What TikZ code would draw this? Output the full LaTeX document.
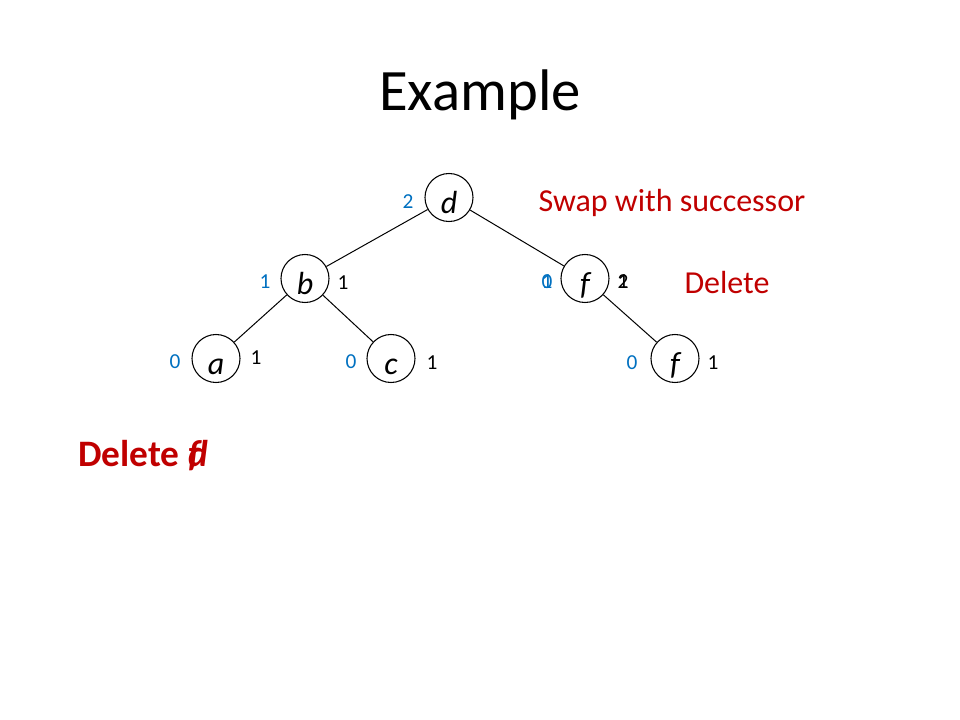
\documentclass[tikz,border=0pt]{standalone}
\usepackage{fontspec}
\setmainfont{Carlito}
\definecolor{slred}{HTML}{C00000}
\definecolor{slblue}{HTML}{0070C0}
\begin{document}
\begin{tikzpicture}[x=0.75pt,y=-0.75pt,
  tnode/.style={draw,circle,minimum size=36pt,inner sep=0pt,line width=0.8pt,text height=23.6pt,text depth=0pt,font=\fontsize{24}{28}\selectfont\itshape},
  bal/.style={font=\fontsize{16}{18}\selectfont,text=slblue,inner sep=0pt},
  hgt/.style={font=\fontsize{16}{18}\selectfont,text=black,inner sep=0pt},
  note/.style={font=\fontsize{24}{28}\selectfont,text=slred,inner sep=0pt},
  edge/.style={line width=0.75pt}]
\useasboundingbox (0,0) rectangle (960,720);
\node[font=\fontsize{44}{50}\selectfont,inner sep=0pt] (title) at (480,95) {Example};
\node[tnode] (d) at (449,197.5) {d};
\node[tnode] (b) at (305,278.5) {b};
\node[tnode] (f) at (585,278.5) {f};
\node[tnode] (a) at (216,358.5) {a};
\node[tnode] (c) at (391,358.5) {c};
\node[tnode] (g) at (675,358.5) {f};
\draw[edge] (d) -- (b);
\draw[edge] (d) -- (f);
\draw[edge] (b) -- (a);
\draw[edge] (b) -- (c);
\draw[edge] (f) -- (g);
\node[bal] (d0) at (408,202) {2};
\node[bal] (b0) at (265,282) {1};
\node[hgt] (b1) at (343,283) {1};
\node[bal] (f0a) at (547,282) {0};
\node[bal] (f0b) at (547,282) {1};
\node[hgt] (f1a) at (623,282) {1};
\node[hgt] (f1b) at (623,282) {2};
\node[bal] (a0) at (175,362) {0};
\node[hgt] (a1) at (256,358) {1};
\node[bal] (c0) at (351,362) {0};
\node[hgt] (c1) at (432,363) {1};
\node[bal] (g0) at (632,363) {0};
\node[hgt] (g1) at (713,363) {1};
\node[note] (swap) at (672,203) {Swap with successor};
\node[note] (del) at (727,283) {Delete};
\node[note,anchor=west,font=\fontsize{28}{32}\selectfont\bfseries] (delf) at (78,456) {Delete \rlap{\itshape f}{\itshape d}};
\end{tikzpicture}
\end{document}
